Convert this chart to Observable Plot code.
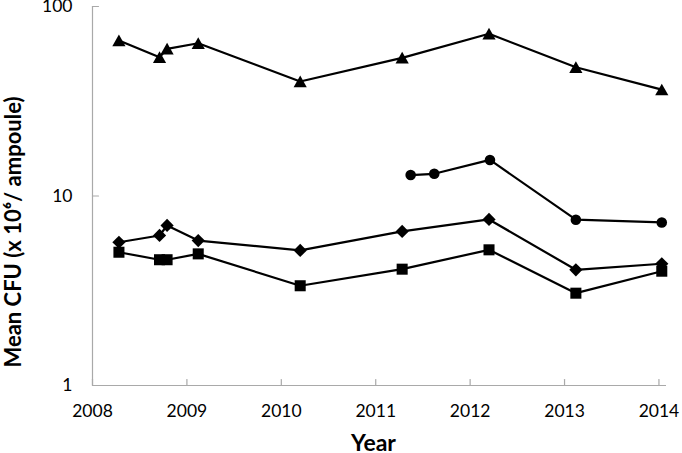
<!DOCTYPE html>
<html><head><meta charset="utf-8">
<script src="https://cdn.jsdelivr.net/npm/d3@7"></script>
<script src="https://cdn.jsdelivr.net/npm/@observablehq/plot@0.6"></script>
<style>body{margin:0;background:#fff}</style>
</head><body><div id="chart"></div>
<script>
// Data
const triYears  = [2008.28, 2008.71, 2008.79, 2009.12, 2010.20, 2011.28, 2012.20, 2013.12, 2014.03];
const triValues = [66.2, 54.0, 59.8, 64.0, 40.2, 53.6, 71.8, 47.8, 36.4];
const circYears  = [2011.37, 2011.62, 2012.21, 2013.12, 2014.03];
const circValues = [12.9, 13.1, 15.5, 7.5, 7.25];
const diaYears  = [2008.28, 2008.71, 2008.79, 2009.12, 2010.20, 2011.28, 2012.20, 2013.12, 2014.03];
const diaValues = [5.70, 6.19, 6.99, 5.82, 5.16, 6.50, 7.52, 4.08, 4.39];
const sqYears  = [2008.28, 2008.71, 2008.79, 2009.12, 2010.20, 2011.28, 2012.20, 2013.12, 2014.03];
const sqValues = [5.05, 4.61, 4.61, 4.95, 3.36, 4.11, 5.20, 3.07, 4.01];
const xTicks = [2008, 2009, 2010, 2011, 2012, 2013, 2014];
const yTicks = [1, 10, 100];
const xDomain = [2008, 2014.08];
const yDomain = [1, 100];
const yLabel = "Mean CFU (x 10\u2076/ ampoule)";
const xLabel = "Year";

const toRows = (xs, ys) => xs.map((x, i) => ({x, y: ys[i]}));

const rad = size => Math.sqrt(size / Math.PI);
const triSym = {draw(c, size) { const s = rad(size); c.moveTo(0, -1.0 * s); c.lineTo(1.1 * s, 0.95 * s); c.lineTo(-1.1 * s, 0.95 * s); c.closePath(); }};
const diaSym = {draw(c, size) { const s = rad(size) * 1.1; c.moveTo(0, -s); c.lineTo(s, 0); c.lineTo(0, s); c.lineTo(-s, 0); c.closePath(); }};
const sqSym = {draw(c, size) { const s = rad(size) * 0.92; c.moveTo(-s, -s); c.lineTo(s, -s); c.lineTo(s, s); c.lineTo(-s, s); c.closePath(); }};
const circSym = {draw(c, size) { const s = rad(size) * 0.88; c.moveTo(s, 0); c.arc(0, 0, s, 0, 2 * Math.PI); c.closePath(); }};
const tickShape = {draw(c, l) { c.moveTo(0, 0); c.lineTo(0, -l); }};

const series = [
  {rows: toRows(triYears, triValues), sym: triSym},
  {rows: toRows(diaYears, diaValues), sym: diaSym},
  {rows: toRows(sqYears, sqValues), sym: sqSym},
  {rows: toRows(circYears, circValues), sym: circSym}
];

const axisGray = "#a9a9a9";

const chart = Plot.plot({
  width: 682,
  height: 453,
  marginLeft: 92,
  marginRight: 16,
  marginTop: 6,
  marginBottom: 68,
  style: {fontFamily: "Lato, 'Open Sans', sans-serif", background: "white", color: "black", overflow: "visible"},
  x: {domain: xDomain, axis: null},
  y: {type: "log", domain: yDomain, axis: null},
  marks: [
    Plot.ruleX([xDomain[0]], {stroke: axisGray, strokeWidth: 1.2}),
    Plot.ruleY([yDomain[0]], {stroke: axisGray, strokeWidth: 1.2}),
    Plot.vector(xTicks, {x: d => d, y: yDomain[0], length: 6, anchor: "start", shape: tickShape, stroke: axisGray, strokeWidth: 1.2}),
    Plot.vector(yTicks, {x: xDomain[0], y: d => d, length: 6, rotate: 90, anchor: "start", shape: tickShape, stroke: axisGray, strokeWidth: 1.2}),
    Plot.axisX({ticks: xTicks, tickSize: 0, tickPadding: 19, fontSize: 17.5, tickFormat: d => String(d), label: null}),
    Plot.axisY({ticks: yTicks, tickSize: 0, tickPadding: 20, fontSize: 17.5, tickFormat: d => String(d), label: null}),
    ...series.flatMap(s => [
      Plot.line(s.rows, {x: "x", y: "y", stroke: "black", strokeWidth: 2.2}),
      Plot.dot(s.rows, {x: "x", y: "y", r: 6, symbol: s.sym, fill: "black", stroke: "none"})
    ]),
    Plot.text([xLabel], {frameAnchor: "bottom", textAnchor: "middle", dy: 58, dx: -6, fontSize: 23, fontWeight: "bold", lineAnchor: "middle"}),
    Plot.text([yLabel], {frameAnchor: "left", textAnchor: "middle", rotate: -90, dx: -79, dy: 36, fontSize: 22, fontWeight: "bold", lineAnchor: "middle"})
  ]
});
document.getElementById("chart").appendChild(chart);
</script>
</body></html>
